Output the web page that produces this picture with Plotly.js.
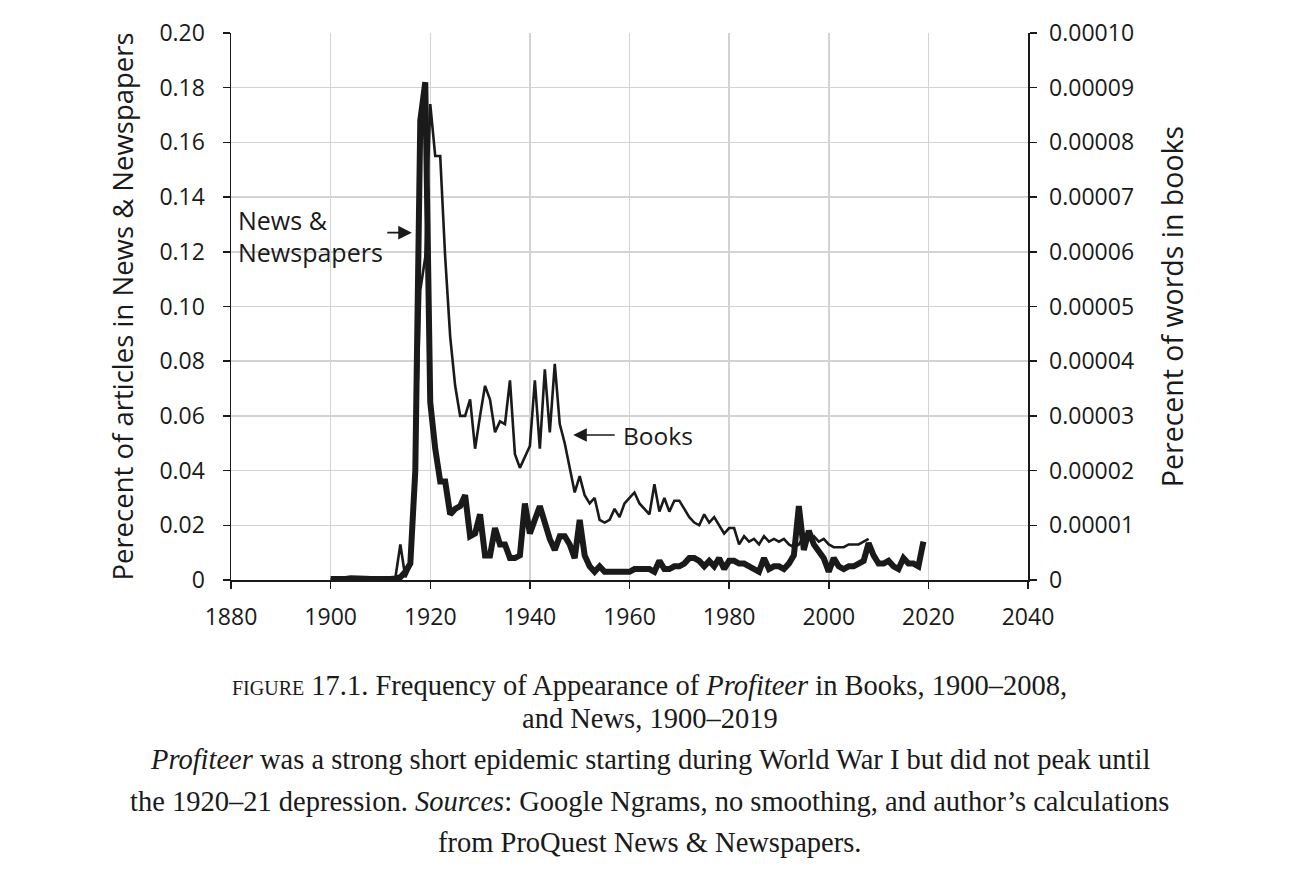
<!DOCTYPE html>
<html>
<head>
<meta charset="utf-8">
<script src="https://cdn.plot.ly/plotly-3.0.1.min.js"></script>
<style>
  html, body { margin: 0; padding: 0; background: #ffffff; }
  #chart { width: 1300px; height: 891px; }
</style>
</head>
<body>
<div id="chart"></div>
<script>
// ---------- DATA ----------
const newsYears = [
  1900,1901,1902,1903,1904,1905,1906,1907,1908,1909,
  1910,1911,1912,1913,1914,1915,1916,1917,1918,1919,
  1920,1921,1922,1923,1924,1925,1926,1927,1928,1929,
  1930,1931,1932,1933,1934,1935,1936,1937,1938,1939,
  1940,1941,1942,1943,1944,1945,1946,1947,1948,1949,
  1950,1951,1952,1953,1954,1955,1956,1957,1958,1959,
  1960,1961,1962,1963,1964,1965,1966,1967,1968,1969,
  1970,1971,1972,1973,1974,1975,1976,1977,1978,1979,
  1980,1981,1982,1983,1984,1985,1986,1987,1988,1989,
  1990,1991,1992,1993,1994,1995,1996,1997,1998,1999,
  2000,2001,2002,2003,2004,2005,2006,2007,2008,2009,
  2010,2011,2012,2013,2014,2015,2016,2017,2018,2019
];
// Percent of articles in News & Newspapers (left axis)
const newsPct = [
  0.0004,0.0003,0.0005,0.0004,0.0006,0.0004,0.0005,0.0005,0.0004,0.0003,
  0.0005,0.0006,0.0004,0.0006,0.001,0.003,0.006,0.04,0.168,0.182,
  0.065,0.048,0.036,0.036,0.024,0.026,0.027,0.031,0.016,0.017,
  0.024,0.009,0.009,0.019,0.013,0.013,0.008,0.008,0.009,0.028,
  0.017,0.022,0.027,0.021,0.015,0.011,0.016,0.016,0.013,0.008,
  0.022,0.009,0.005,0.003,0.005,0.003,0.003,0.003,0.003,0.003,
  0.003,0.004,0.004,0.004,0.004,0.003,0.007,0.004,0.004,0.005,
  0.005,0.006,0.008,0.008,0.007,0.005,0.007,0.005,0.008,0.004,
  0.007,0.007,0.006,0.006,0.005,0.004,0.003,0.008,0.004,0.005,
  0.005,0.004,0.006,0.009,0.027,0.011,0.018,0.013,0.010,0.008,
  0.003,0.008,0.005,0.004,0.005,0.005,0.006,0.007,0.0135,0.009,
  0.006,0.006,0.007,0.005,0.004,0.008,0.006,0.006,0.005,0.014
];

const booksYears = [
  1900,1901,1902,1903,1904,1905,1906,1907,1908,1909,
  1910,1911,1912,1913,1914,1915,1916,1917,1918,1919,
  1920,1921,1922,1923,1924,1925,1926,1927,1928,1929,
  1930,1931,1932,1933,1934,1935,1936,1937,1938,1939,
  1940,1941,1942,1943,1944,1945,1946,1947,1948,1949,
  1950,1951,1952,1953,1954,1955,1956,1957,1958,1959,
  1960,1961,1962,1963,1964,1965,1966,1967,1968,1969,
  1970,1971,1972,1973,1974,1975,1976,1977,1978,1979,
  1980,1981,1982,1983,1984,1985,1986,1987,1988,1989,
  1990,1991,1992,1993,1994,1995,1996,1997,1998,1999,
  2000,2001,2002,2003,2004,2005,2006,2007,2008
];
// Percent of words in books (right axis)
const booksPct = [
  0.00000015,0.0000002,0.00000015,0.0000002,0.00000025,0.0000002,0.00000015,0.0000002,0.00000025,0.0000002,
  0.0000002,0.00000025,0.0000003,0.0000004,0.0000065,0.0000005,0.0000025,0.00002,0.000053,0.000059,
  0.000087,0.0000775,0.0000775,0.000059,0.0000445,0.0000355,0.00003,0.00003,0.000033,0.000024,
  0.00003,0.0000355,0.000033,0.000027,0.000029,0.0000285,0.0000365,0.000023,0.0000205,0.0000225,
  0.0000245,0.0000365,0.000024,0.0000385,0.000027,0.0000395,0.0000285,0.000025,0.0000205,0.000016,
  0.000019,0.0000155,0.000014,0.000015,0.000011,0.0000105,0.000011,0.000013,0.0000115,0.000014,
  0.000015,0.000016,0.000014,0.000013,0.000012,0.0000175,0.0000125,0.000015,0.0000125,0.0000145,
  0.0000145,0.000013,0.0000115,0.0000105,0.00001,0.000012,0.0000105,0.0000115,0.00001,0.0000085,
  0.0000095,0.0000095,0.0000065,0.000008,0.000007,0.0000075,0.0000065,0.000008,0.000007,0.0000075,
  0.000007,0.0000075,0.0000065,0.000006,0.0000065,0.000008,0.0000075,0.000008,0.000007,0.0000075,
  0.0000065,0.000006,0.000006,0.000006,0.0000065,0.0000065,0.0000065,0.000007,0.0000075
];

// Tick labels
const xTickVals = [1880,1900,1920,1940,1960,1980,2000,2020,2040];
const xTickText = ['1880','1900','1920','1940','1960','1980','2000','2020','2040'];
const leftTickVals = [0,0.02,0.04,0.06,0.08,0.10,0.12,0.14,0.16,0.18,0.20];
const leftTickText = ['0','0.02','0.04','0.06','0.08','0.10','0.12','0.14','0.16','0.18','0.20'];
const rightTickVals = [0,0.00001,0.00002,0.00003,0.00004,0.00005,0.00006,0.00007,0.00008,0.00009,0.0001];
const rightTickText = ['0','0.00001','0.00002','0.00003','0.00004','0.00005','0.00006','0.00007','0.00008','0.00009','0.00010'];

// Caption lines
const captionLines = [
  '<span style="font-variant:small-caps">figure 17.1.</span> Frequency of Appearance of <i>Profiteer</i> in Books, 1900–2008,',
  'and News, 1900–2019',
  '<i>Profiteer</i> was a strong short epidemic starting during World War I but did not peak until',
  'the 1920–21 depression. <i>Sources</i>: Google Ngrams, no smoothing, and author’s calculations',
  'from ProQuest News & Newspapers.'
];

// ---------- CHART ----------
const ink = '#1a1a1a';
const sans = '"Open Sans", "Noto Sans", sans-serif';
const serif = '"Liberation Serif", "DejaVu Serif", serif';

const traces = [
  {
    x: newsYears, y: newsPct, type: 'scatter', mode: 'lines', name: 'News & Newspapers',
    line: { color: ink, width: 6 }, yaxis: 'y', hoverinfo: 'x+y'
  },
  {
    x: booksYears, y: booksPct, type: 'scatter', mode: 'lines', name: 'Books',
    line: { color: ink, width: 2.6 }, yaxis: 'y2', hoverinfo: 'x+y'
  }
];

const axisFont = { family: sans, size: 23, color: ink };

const captionY = [685, 718, 760, 801, 842];
const plotTop = 33, plotBottom = 580;
const annotations = captionLines.map((t, i) => ({
  text: t, xref: 'paper', yref: 'paper', x: 0.5257,
  y: (plotBottom - captionY[i]) / (plotBottom - plotTop),
  xanchor: 'center', yanchor: 'middle', showarrow: false,
  font: { family: serif, size: 28.5, color: ink }
}));

annotations.push(
  { text: 'News &', xref: 'x', yref: 'y', x: 1881.0, y: 0.1316, xanchor: 'left', yanchor: 'middle',
    showarrow: false, font: { family: sans, size: 25, color: ink } },
  { text: 'Newspapers', xref: 'x', yref: 'y', x: 1881.0, y: 0.120, xanchor: 'left', yanchor: 'middle',
    showarrow: false, font: { family: sans, size: 25, color: ink } },
  { text: '', xref: 'x', yref: 'y', x: 1916.3, y: 0.127, ax: -26, ay: 0, axref: 'pixel', ayref: 'pixel',
    showarrow: true, arrowhead: 2, arrowsize: 1.7, arrowwidth: 1.6, arrowcolor: ink },
  { text: 'Books', xref: 'x', yref: 'y', x: 1958.3, y: 0.053, xanchor: 'left', yanchor: 'middle',
    showarrow: false, font: { family: sans, size: 24.5, color: ink } },
  { text: '', xref: 'x', yref: 'y', x: 1948.7, y: 0.053, ax: 43, ay: 0, axref: 'pixel', ayref: 'pixel',
    showarrow: true, arrowhead: 2, arrowsize: 1.7, arrowwidth: 1.6, arrowcolor: ink }
);

const layout = {
  width: 1300, height: 891,
  margin: { l: 231, r: 272, t: 33, b: 311, pad: 0 },
  paper_bgcolor: '#ffffff', plot_bgcolor: '#ffffff',
  showlegend: false,
  xaxis: {
    range: [1880, 2040], tickvals: xTickVals, ticktext: xTickText,
    showgrid: true, gridcolor: '#d3d3d3', gridwidth: 1.5,
    showline: true, linecolor: ink, linewidth: 1.5, zeroline: false,
    ticks: 'outside', ticklen: 7, tickwidth: 1.5, tickcolor: ink,
    ticklabelstandoff: 9,
    tickfont: axisFont, fixedrange: true
  },
  yaxis: {
    range: [0, 0.2], tickvals: leftTickVals, ticktext: leftTickText,
    showgrid: true, gridcolor: '#d3d3d3', gridwidth: 1.5,
    showline: true, linecolor: ink, linewidth: 1.5, zeroline: false,
    ticks: 'outside', ticklen: 7, tickwidth: 1.5, tickcolor: ink,
    ticklabelstandoff: 13,
    tickfont: axisFont, automargin: false,
    title: { text: 'Perecent of articles in News & Newspapers', font: { family: sans, size: 27.5, color: ink }, standoff: 18 }
  },
  yaxis2: {
    range: [0, 0.0001], tickvals: rightTickVals, ticktext: rightTickText,
    overlaying: 'y', side: 'right', showgrid: false,
    showline: true, linecolor: ink, linewidth: 1.5, zeroline: false,
    ticks: 'outside', ticklen: 7, tickwidth: 1.5, tickcolor: ink,
    ticklabelstandoff: 8,
    tickfont: axisFont, automargin: false,
    title: { text: 'Perecent of words in books', font: { family: sans, size: 28.5, color: ink }, standoff: 30 }
  },
  annotations: annotations
};

Plotly.newPlot('chart', traces, layout, { staticPlot: true, displayModeBar: false });
</script>
</body>
</html>
